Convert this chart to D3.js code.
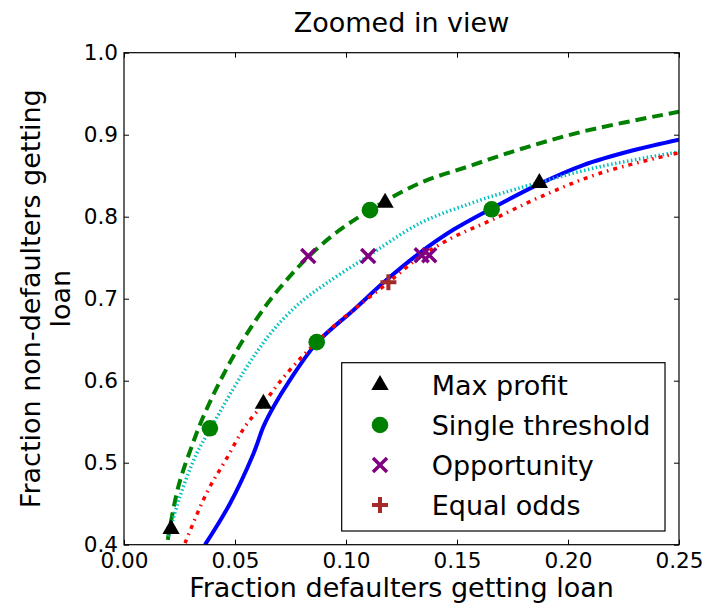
<!DOCTYPE html>
<html>
  <head>
    <meta charset="utf-8" />
    <title>Zoomed in view</title>
    <script src="https://d3js.org/d3.v7.min.js"></script>
    <style>
      body { margin: 0; background: #fff; }
      svg { font-family: "DejaVu Sans", sans-serif; }
    </style>
  </head>
  <body>
    <div id="chart"></div>

    <script>
      // Curves: [fraction defaulters getting loan, fraction non-defaulters getting loan]
      const solidBlue = [
        [0.0365, 0.400], [0.0477, 0.450], [0.0583, 0.511], [0.0628, 0.544],
        [0.0673, 0.568], [0.0748, 0.601], [0.0868, 0.646], [0.1033, 0.686],
        [0.1183, 0.723], [0.1333, 0.756], [0.1483, 0.784], [0.1656, 0.810],
        [0.1871, 0.840], [0.2069, 0.863], [0.2294, 0.881], [0.2500, 0.894]
      ];
      const dashedGreen = [
        [0.0197, 0.406], [0.0245, 0.471], [0.0312, 0.525], [0.0357, 0.556],
        [0.0447, 0.607], [0.0537, 0.650], [0.0643, 0.693], [0.0733, 0.723],
        [0.0830, 0.751], [0.0958, 0.781], [0.1108, 0.808], [0.1333, 0.841],
        [0.1559, 0.862], [0.1769, 0.881], [0.2069, 0.904], [0.2500, 0.928]
      ];
      const dottedCyan = [
        [0.0200, 0.410], [0.0252, 0.459], [0.0327, 0.511], [0.0387, 0.540],
        [0.0492, 0.590], [0.0583, 0.629], [0.0673, 0.662], [0.0793, 0.695],
        [0.0913, 0.719], [0.1048, 0.743], [0.1100, 0.752], [0.1333, 0.792],
        [0.1559, 0.816], [0.1769, 0.834], [0.2144, 0.861], [0.2500, 0.879]
      ];
      const dashdotRed = [
        [0.0275, 0.402], [0.0372, 0.463], [0.0462, 0.505], [0.0545, 0.544],
        [0.0628, 0.572], [0.0703, 0.599], [0.0815, 0.633], [0.0943, 0.666],
        [0.1041, 0.688], [0.1191, 0.720], [0.1333, 0.751], [0.1483, 0.775],
        [0.1656, 0.796], [0.1874, 0.824], [0.2144, 0.853], [0.2500, 0.878]
      ];

      // Operating points
      const maxProfit = [[0.0212, 0.419], [0.0628, 0.572], [0.1176, 0.817], [0.1871, 0.841]];
      const singleThreshold = [[0.0387, 0.542], [0.0868, 0.647], [0.1108, 0.808], [0.1656, 0.809]];
      const opportunity = [[0.0830, 0.752], [0.1100, 0.752], [0.1341, 0.753], [0.1375, 0.753]];
      const equalOdds = [[0.1191, 0.720]];

      const xTicks = [0, 0.05, 0.1, 0.15, 0.2, 0.25];
      const yTicks = [0.4, 0.5, 0.6, 0.7, 0.8, 0.9, 1.0];
      const legendLabels = ["Max profit", "Single threshold", "Opportunity", "Equal odds"];

      const width = 708, height = 605;
      const margin = { top: 52.7, right: 29, bottom: 60.3, left: 124 };
      const w = width - margin.left - margin.right;
      const h = height - margin.top - margin.bottom;

      const svg = d3.select("#chart").append("svg")
        .attr("width", width).attr("height", height);

      const x = d3.scaleLinear().domain([0, 0.25]).range([0, w]);
      const y = d3.scaleLinear().domain([0.4, 1.0]).range([h, 0]);

      const g = svg.append("g").attr("transform", `translate(${margin.left},${margin.top})`);

      g.append("clipPath").attr("id", "clip")
        .append("rect").attr("width", w).attr("height", h);

      const line = d3.line().x(d => x(d[0])).y(d => y(d[1])).curve(d3.curveCatmullRom);

      const plot = g.append("g").attr("clip-path", "url(#clip)");

      const curves = [
        { data: solidBlue, color: "#0000ff", dash: null, lw: 4 },
        { data: dashedGreen, color: "#008000", dash: "11,6", lw: 4 },
        { data: dottedCyan, color: "#00bfbf", dash: "1.5,2.5", lw: 3.5 },
        { data: dashdotRed, color: "#ff0000", dash: "4,5,1.5,5", lw: 3.5 }
      ];
      curves.forEach(c => {
        plot.append("path")
          .datum(c.data)
          .attr("d", line)
          .attr("fill", "none")
          .attr("stroke", c.color)
          .attr("stroke-width", c.lw)
          .attr("stroke-dasharray", c.dash);
      });

      const tri = d3.symbol().type(d3.symbolTriangle).size(130);
      const markerDefs = [
        { data: maxProfit, draw: sel => sel.append("path").attr("d", tri).attr("fill", "#000") },
        { data: singleThreshold, draw: sel => sel.append("circle").attr("r", 8.3).attr("fill", "#008000") },
        { data: opportunity, draw: sel => sel.append("path").attr("d", "M-7,-7L7,7M-7,7L7,-7")
            .attr("stroke", "#800080").attr("stroke-width", 3.5).attr("fill", "none") },
        { data: equalOdds, draw: sel => sel.append("path").attr("d", "M-8,0H8M0,-8V8")
            .attr("stroke", "#a52a2a").attr("stroke-width", 4).attr("fill", "none") }
      ];
      markerDefs.forEach(m => {
        plot.selectAll(null).data(m.data).enter().append("g")
          .attr("transform", d => `translate(${x(d[0])},${y(d[1])})`)
          .call(m.draw);
      });

      // Axes with inward ticks on all four sides
      const tickLen = 5;
      const fmtX = d3.format(".2f"), fmtY = d3.format(".1f");
      const xb = g.append("g").attr("transform", `translate(0,${h})`)
        .call(d3.axisBottom(x).tickValues(xTicks).tickFormat(fmtX).tickSizeInner(-tickLen).tickSizeOuter(0).tickPadding(8));
      const xt = g.append("g")
        .call(d3.axisTop(x).tickValues(xTicks).tickFormat("").tickSizeInner(-tickLen).tickSizeOuter(0));
      const yl = g.append("g")
        .call(d3.axisLeft(y).tickValues(yTicks).tickFormat(fmtY).tickSizeInner(-tickLen).tickSizeOuter(0).tickPadding(6));
      const yr = g.append("g").attr("transform", `translate(${w},0)`)
        .call(d3.axisRight(y).tickValues(yTicks).tickFormat("").tickSizeInner(-tickLen).tickSizeOuter(0));
      [xb, xt, yl, yr].forEach(a => {
        a.select(".domain").remove();
        a.selectAll("line").attr("stroke", "#000");
        a.selectAll("text").attr("font-size", 21.6).attr("fill", "#000")
          .attr("font-family", "DejaVu Sans");
      });

      g.append("rect").attr("width", w).attr("height", h)
        .attr("fill", "none").attr("stroke", "#000").attr("stroke-width", 1.2);

      // Titles
      svg.append("text").attr("x", margin.left + w / 2).attr("y", 32)
        .attr("text-anchor", "middle").attr("font-size", 27).text("Zoomed in view");
      svg.append("text").attr("x", margin.left + w / 2).attr("y", 597)
        .attr("text-anchor", "middle").attr("font-size", 27).text("Fraction defaulters getting loan");
      const yLab = svg.append("text")
        .attr("transform", `translate(40,${margin.top + h / 2}) rotate(-90)`)
        .attr("text-anchor", "middle").attr("font-size", 27);
      yLab.append("tspan").attr("x", 0).attr("dy", 0).text("Fraction non-defaulters getting");
      yLab.append("tspan").attr("x", 0).attr("dy", 30).text("loan");

      // Legend
      const leg = svg.append("g");
      leg.append("rect").attr("x", 341.7).attr("y", 362.7).attr("width", 323.3).attr("height", 168.3)
        .attr("fill", "#fff").attr("stroke", "#000").attr("stroke-width", 1.2);
      const rowY = d3.scalePoint().domain(legendLabels).range([385, 505]);
      legendLabels.forEach((lab, i) => {
        const row = leg.append("g").attr("transform", `translate(380,${rowY(lab)})`);
        markerDefs[i].draw(row);
        leg.append("text").attr("x", 431.7).attr("y", rowY(lab)).attr("dy", "0.36em")
          .attr("font-size", 27).text(lab);
      });
    </script>
  </body>
</html>
